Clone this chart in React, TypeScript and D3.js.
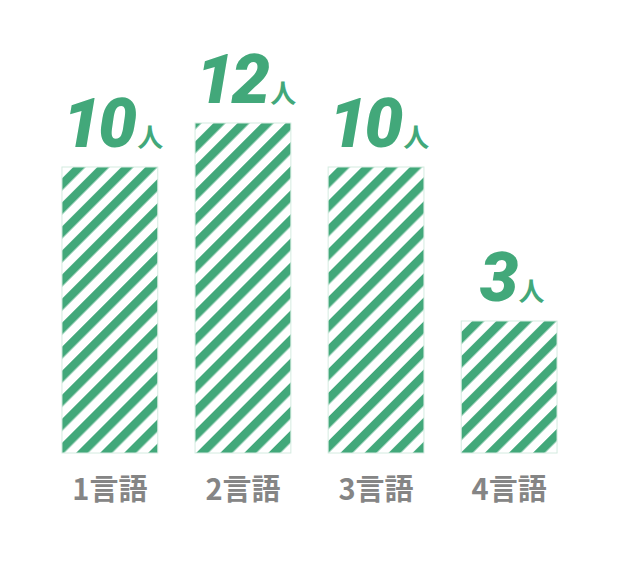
import * as d3 from 'd3';

const categories = ['1言語', '2言語', '3言語', '4言語'];
const counts = [10, 12, 10, 3];
const unit = '人';

const width = 620;
const height = 564;
const green = '#42a87a';

export default function App() {
  const x = d3.scaleBand().domain(categories).range([42, 577]).paddingInner(0.28).paddingOuter(0.15);
  // bars don't start from zero in the original; offset baseline
  const y = d3.scaleLinear().domain([-3, 12]).range([453, 123]);

  return (
    <svg
      width={width}
      height={height}
      style={{ position: 'absolute', left: 0, top: 0, background: '#fff' }}
    >
      <defs>
        <pattern
          id="stripes"
          patternUnits="userSpaceOnUse"
          width={17}
          height={17}
          patternTransform="rotate(45)"
        >
          <rect width={17} height={17} fill="#fff" />
          <rect width={8.5} height={17} fill={green} />
        </pattern>
      </defs>
      {categories.map((c, i) => {
        const bx = x(c)!;
        const bw = x.bandwidth();
        const top = y(counts[i]);
        const cx = bx + bw / 2;
        return (
          <g key={c}>
            <rect
              x={bx}
              y={top}
              width={bw}
              height={y(-3) - top}
              fill="url(#stripes)"
              stroke="#d4ebe0"
              strokeWidth={1}
            />
            <text
              x={cx + 3}
              y={top - 20}
              textAnchor="middle"
              fill={green}
              fontFamily="Roboto, 'Noto Sans CJK JP', sans-serif"
            >
              <tspan fontSize={69} fontWeight={900} fontStyle="italic" letterSpacing={-3}>
                {counts[i]}
              </tspan>
              <tspan fontSize={26} fontWeight={700} dx={3} fontFamily="'Noto Sans CJK JP', sans-serif">
                {unit}
              </tspan>
            </text>
            <text
              x={cx}
              y={500}
              textAnchor="middle"
              fill="#858585"
              fontSize={29}
              fontWeight={700}
              fontFamily="'Noto Sans CJK JP', sans-serif"
            >
              {c}
            </text>
          </g>
        );
      })}
    </svg>
  );
}
